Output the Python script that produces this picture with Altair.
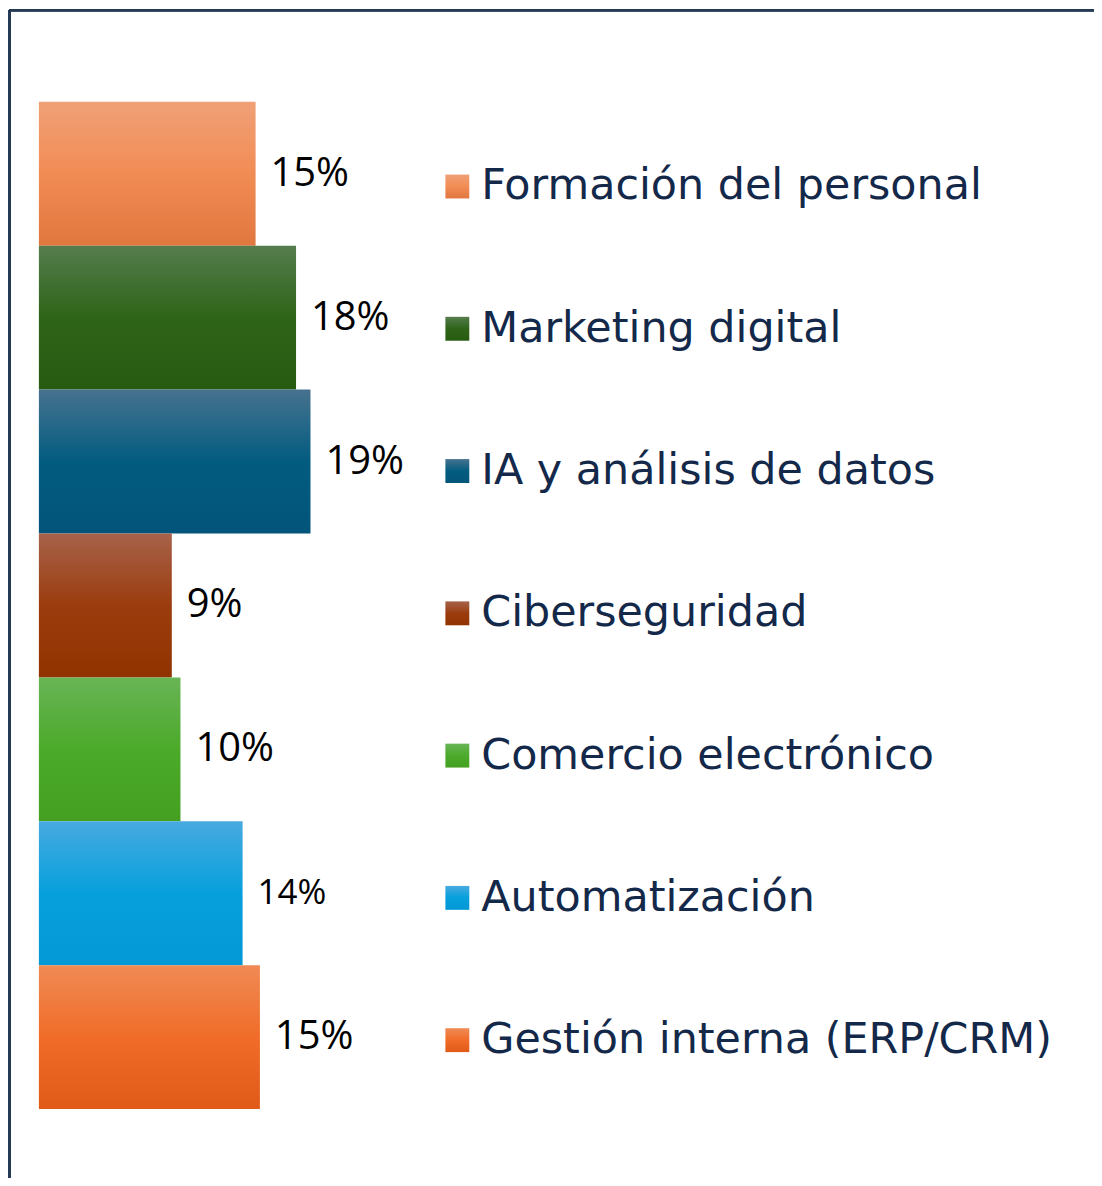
import altair as alt
import pandas as pd

categories = [
    "Formación del personal",
    "Marketing digital",
    "IA y análisis de datos",
    "Ciberseguridad",
    "Comercio electrónico",
    "Automatización",
    "Gestión interna (ERP/CRM)",
]
values = [15.0, 17.8, 18.8, 9.2, 9.8, 14.1, 15.3]
labels = ["15%", "18%", "19%", "9%", "10%", "14%", "15%"]
# gradient stops: top, middle, bottom
grad_top = ["#F0A077", "#557D4D", "#47728F", "#A7624A", "#68B456", "#47AAE0", "#F08A55"]
grad_mid = ["#F28C55", "#2E6418", "#025C80", "#9B3C0E", "#4CAA2A", "#06A0DC", "#F06C28"]
grad_bot = ["#E0773F", "#285B12", "#03547A", "#913300", "#43A020", "#0498D6", "#E05A18"]

df = pd.DataFrame({"cat": categories, "value": values, "label": labels})

W, H = 1090, 1172
FONT = "Open Sans"
LEG_FONT = "DejaVu Sans"

x_scale = alt.Scale(domain=[0, 20], range=[31, 321])
y_bar = alt.Scale(domain=categories, range=[92, 1103], paddingInner=0, paddingOuter=0)
y_leg = alt.Scale(domain=categories, range=[105.6, 1105.2], paddingInner=0, paddingOuter=0)


def grad(i):
    return alt.LinearGradient(
        gradient="linear", x1=0, y1=0, x2=0, y2=1,
        stops=[
            alt.GradientStop(color=grad_top[i], offset=0),
            alt.GradientStop(color=grad_mid[i], offset=0.5),
            alt.GradientStop(color=grad_bot[i], offset=1),
        ],
    )


base = alt.Chart(df)
layers = []
for i, c in enumerate(categories):
    sub = base.transform_filter(alt.datum.cat == c)
    layers.append(
        sub.mark_bar(color=grad(i), cornerRadius=0).encode(
            x=alt.X("value:Q", scale=x_scale, axis=None),
            x2=alt.datum(0),
            y=alt.Y("cat:N", scale=y_bar, axis=None),
        )
    )
    layers.append(
        sub.mark_square(color=grad(i), size=576, opacity=1).encode(
            x=alt.value(451),
            y=alt.Y("cat:N", scale=y_leg, axis=None),
        )
    )

labels_layer = base.mark_text(
    align="left", baseline="middle", dx=15, font=FONT, color="#000000"
).encode(
    x=alt.X("value:Q", scale=x_scale, axis=None),
    y=alt.Y("cat:N", scale=y_bar, axis=None),
    text="label:N",
    size=alt.condition(alt.datum.cat == "Automatización", alt.value(35), alt.value(40)),
)

legend_text = base.mark_text(
    align="left", baseline="middle", font=LEG_FONT, fontSize=43, color="#14294A"
).encode(
    x=alt.value(475),
    y=alt.Y("cat:N", scale=y_leg, axis=None),
    text="cat:N",
)

frame_left = base.mark_rule(color="#243B55", strokeWidth=2).encode(
    x=alt.value(1.5), y=alt.value(0), y2=alt.value(H)
)
frame_top = base.mark_rule(color="#243B55", strokeWidth=2).encode(
    x=alt.value(1), x2=alt.value(W), y=alt.value(0)
)

chart = (
    alt.layer(*layers, labels_layer, legend_text, frame_left, frame_top)
    .resolve_scale(y="independent")
    .properties(
        width=W, height=H,
        autosize=alt.AutoSizeParams(type="none"),
        padding={"left": 0, "top": 0, "right": 0, "bottom": 0},
        background="#FFFFFF",
    )
    .configure_view(stroke=None)
)

chart.save("out.html", embed_options={"renderer": "svg", "actions": False})
